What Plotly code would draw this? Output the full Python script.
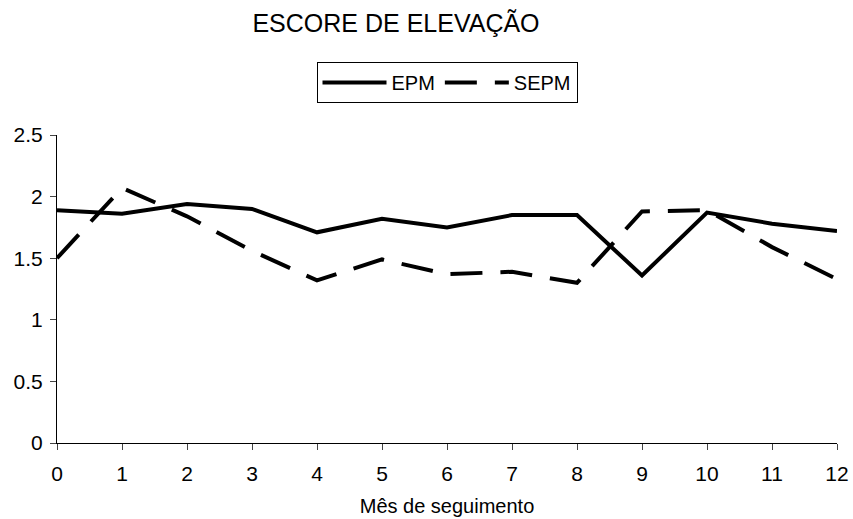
import plotly.graph_objects as go

months = [0, 1, 2, 3, 4, 5, 6, 7, 8, 9, 10, 11, 12]
epm = [1.89, 1.86, 1.94, 1.90, 1.71, 1.82, 1.75, 1.85, 1.85, 1.36, 1.87, 1.78, 1.72]
sepm = [1.50, 2.07, 1.84, 1.56, 1.32, 1.49, 1.37, 1.39, 1.30, 1.88, 1.89, 1.59, 1.33]
y_ticks = [0, 0.5, 1, 1.5, 2, 2.5]
y_tick_labels = ["0", "0.5", "1", "1.5", "2", "2.5"]

FONT = "Liberation Sans, Arial, sans-serif"

fig = go.Figure()
fig.add_trace(go.Scatter(x=months, y=epm, mode="lines", name="EPM",
                         line=dict(color="black", width=4)))
fig.add_trace(go.Scatter(x=months, y=sepm, mode="lines", name="SEPM",
                         line=dict(color="black", width=4, dash="32px,18px")))

fig.update_layout(
    width=853, height=519,
    paper_bgcolor="white", plot_bgcolor="white",
    margin=dict(l=57, r=16, t=135, b=76, autoexpand=False),
    font=dict(family=FONT, color="black", size=17),
    title=dict(text="ESCORE DE ELEVAÇÃO", x=396 / 853, xanchor="center",
               y=1 - 23 / 519, yanchor="middle", yref="container",
               font=dict(size=25, family=FONT, color="black")),
    legend=dict(orientation="h", x=0.5, xanchor="center", y=1.237, yanchor="top",
                bordercolor="black", borderwidth=1, bgcolor="white",
                font=dict(size=20, family=FONT, color="black"),
                itemwidth=64, tracegroupgap=0),
    showlegend=True,
)
fig.update_xaxes(range=[0, 12], tickvals=months, ticktext=[str(m) for m in months],
                 showgrid=False, zeroline=False, showline=True, linecolor="black",
                 linewidth=1, ticks="outside", ticklen=6, tickcolor="#444",
                 automargin=False, ticklabelstandoff=6,
                 tickfont=dict(size=21, family=FONT, color="black"),
                 title=dict(text="Mês de seguimento", standoff=14,
                            font=dict(size=20, family=FONT, color="black")))
fig.update_yaxes(range=[0, 2.5], tickvals=y_ticks, ticktext=y_tick_labels,
                 showgrid=False, zeroline=False, showline=True, linecolor="black",
                 linewidth=1, ticks="outside", ticklen=6, tickcolor="#444",
                 automargin=False, ticklabelstandoff=3,
                 tickfont=dict(size=21, family=FONT, color="black"))

fig.write_html("out.html", config={"displayModeBar": False},
               post_script="document.body.style.margin='0';")
